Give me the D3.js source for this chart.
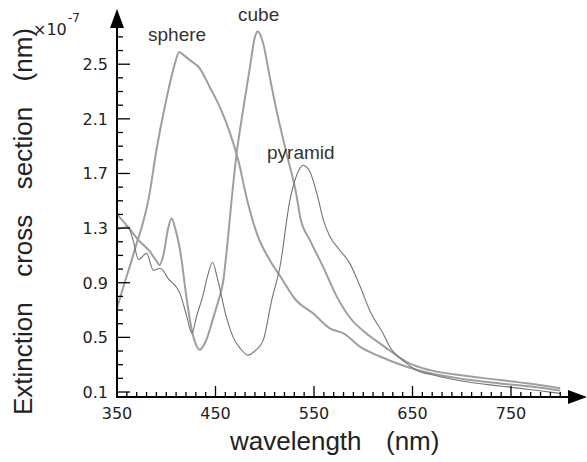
<!DOCTYPE html>
<html><head><meta charset="utf-8">
<script src="https://cdn.jsdelivr.net/npm/d3@7"></script>
<style>html,body{margin:0;padding:0;background:#fff;}svg{display:block;}</style>
</head><body>
<script>
// ---- data ----
const sphereW = [350,356,363,370,376,382,390,400,409,413,417,424,434,444,456,465,473,482,492,505,516,532,549,566,580,597,617,644,668,701,739,770,800];
const sphereV = [0.715,0.86,1.02,1.19,1.33,1.51,1.87,2.24,2.51,2.59,2.57,2.53,2.47,2.335,2.16,1.99,1.80,1.51,1.26,1.066,0.944,0.77,0.676,0.566,0.53,0.43,0.36,0.285,0.237,0.195,0.163,0.14,0.11];

const cubeW = [350,361,372,382,390,393,397,402,405.5,409,414,421,426,430,434,440,448,453,458,462,466,471.5,478,485,490,493,498.5,505,512,522,532,536,546,559,573,587,603,620,647,668,701,739,770,800];
const cubeV = [1.40,1.31,1.21,1.14,1.06,1.03,1.10,1.30,1.37,1.30,1.14,0.77,0.55,0.45,0.41,0.47,0.65,0.77,0.92,1.18,1.48,1.85,2.165,2.48,2.70,2.74,2.65,2.41,2.16,1.85,1.55,1.38,1.21,1.02,0.80,0.64,0.53,0.44,0.31,0.26,0.22,0.188,0.16,0.127];

const pyramidW = [350,355,361,366,372,380,387,394,402,414,421,426,431,437,442,447,452,461,468,475,483,490,498.5,507,515.5,525.6,532,539,546,553,559.5,566,576,586.5,597,607,620,627,642,654,671,705,739,773,800];
const pyramidV = [1.29,1.30,1.31,1.22,1.07,1.115,0.99,1.006,0.93,0.82,0.65,0.53,0.66,0.80,0.95,1.05,0.93,0.65,0.50,0.42,0.37,0.40,0.48,0.77,1.02,1.506,1.68,1.76,1.71,1.55,1.36,1.24,1.14,1.04,0.87,0.69,0.53,0.43,0.32,0.26,0.225,0.175,0.144,0.115,0.09];

const seriesNames = ["sphere","cube","pyramid"];
const xTickLabels = ["350","450","550","650","750"];
const yTickLabels = ["0.1","0.5","0.9","1.3","1.7","2.1","2.5"];
const yTitleWords = ["Extinction","cross","section","(nm)"];
const xTitleWords = ["wavelength","(nm)"];

// ---- layout ----
const W = 587, H = 462;
const svg = d3.select("body").append("svg").attr("width", W).attr("height", H);

const x = d3.scaleLinear().domain([350, 750]).range([117, 511]);
const y = d3.scaleLinear().domain([0.1, 2.5]).range([392, 64.2]);
const axisY = 397, axisX = 117;

const g = svg.append("g");

// curves
const line = d3.line().x(d => x(d[0])).y(d => y(d[1])).curve(d3.curveMonotoneX);
const series = [
  {name: seriesNames[0], w: sphereW, v: sphereV, color: "#9e9e9e", width: 2},
  {name: seriesNames[1], w: cubeW, v: cubeV, color: "#9e9e9e", width: 2},
  {name: seriesNames[2], w: pyramidW, v: pyramidV, color: "#747474", width: 1.1}
];
series.forEach(s => {
  g.append("path").datum(s.w.map((w, i) => [w, s.v[i]]))
    .attr("d", line).attr("fill", "none")
    .attr("stroke", s.color).attr("stroke-width", s.width).attr("stroke-linejoin", "round");
});

// axes lines
g.append("line").attr("x1", axisX).attr("x2", 569).attr("y1", axisY).attr("y2", axisY)
  .attr("stroke", "#000").attr("stroke-width", 2);
g.append("path").attr("d", `M587,${axisY} L568,${axisY-7} L568,${axisY+7} Z`).attr("fill", "#000");
g.append("line").attr("x1", axisX).attr("x2", axisX).attr("y1", axisY+1).attr("y2", 27)
  .attr("stroke", "#000").attr("stroke-width", 2);
g.append("path").attr("d", `M${axisX},9 L${axisX-7},28 L${axisX+7},28 Z`).attr("fill", "#000");

// x ticks
const xt = d3.range(350, 801, 10);
g.selectAll(".xt").data(xt).enter().append("line")
  .attr("x1", d => x(d)).attr("x2", d => x(d))
  .attr("y1", axisY).attr("y2", d => axisY - (((d - 350) % 100 === 0) ? 11 : 5))
  .attr("stroke", "#000").attr("stroke-width", 1.3);
g.selectAll(".xl").data(xTickLabels).enter().append("text")
  .attr("x", d => x(+d)).attr("y", 419).attr("text-anchor", "middle")
  .attr("font-family", "DejaVu Sans").attr("font-size", 16).attr("fill", "#222").text(d => d);

// y ticks
const yt = d3.range(0, 27).map(i => 0.1 + i * 0.1);
g.selectAll(".yt").data(yt).enter().append("line")
  .attr("x1", axisX).attr("x2", (d, i) => axisX + ((i % 4 === 0) ? 13 : 6))
  .attr("y1", d => y(d)).attr("y2", d => y(d))
  .attr("stroke", "#000").attr("stroke-width", 1.3);
g.selectAll(".yl").data(yTickLabels).enter().append("text")
  .attr("x", 108).attr("y", d => y(+d) + 6).attr("text-anchor", "end")
  .attr("font-family", "DejaVu Sans").attr("font-size", 16).attr("fill", "#222").text(d => d);

// exponent
g.append("text").attr("x", 33).attr("y", 35).attr("font-family", "DejaVu Sans").attr("font-size", 16).attr("fill", "#222").text("\u00d710");
g.append("text").attr("x", 68).attr("y", 22).attr("font-family", "DejaVu Sans").attr("font-size", 12).attr("fill", "#222").text("-7");

// series labels
const lf = "Liberation Sans, Arial, sans-serif";
g.append("text").attr("x", 148).attr("y", 41).attr("font-family", lf).attr("font-size", 19).attr("fill", "#333").text(seriesNames[0]);
g.append("text").attr("x", 238).attr("y", 21).attr("font-family", lf).attr("font-size", 19).attr("fill", "#333").text(seriesNames[1]);
g.append("text").attr("x", 267).attr("y", 159).attr("font-family", lf).attr("font-size", 19).attr("fill", "#333").text(seriesNames[2]);

// x title
g.append("text").attr("x", 230).attr("y", 450).attr("font-family", lf).attr("font-size", 26).attr("fill", "#222").text(xTitleWords[0]);
g.append("text").attr("x", 386).attr("y", 450).attr("font-family", lf).attr("font-size", 26).attr("fill", "#222").text(xTitleWords[1]);

// y title: words spread evenly between y=415 (bottom) and y=28 (top)
const yNodes = yTitleWords.map(t => g.append("text")
  .attr("font-family", lf).attr("font-size", 26).attr("fill", "#222").text(t));
const widths = yNodes.map(n => n.node().getComputedTextLength());
const total = 415 - 28;
const gap = (total - d3.sum(widths)) / (yTitleWords.length - 1);
let pos = 415;
yNodes.forEach((n, i) => {
  n.attr("transform", `translate(32,${pos}) rotate(-90)`);
  pos -= widths[i] + gap;
});
</script>
</body></html>
